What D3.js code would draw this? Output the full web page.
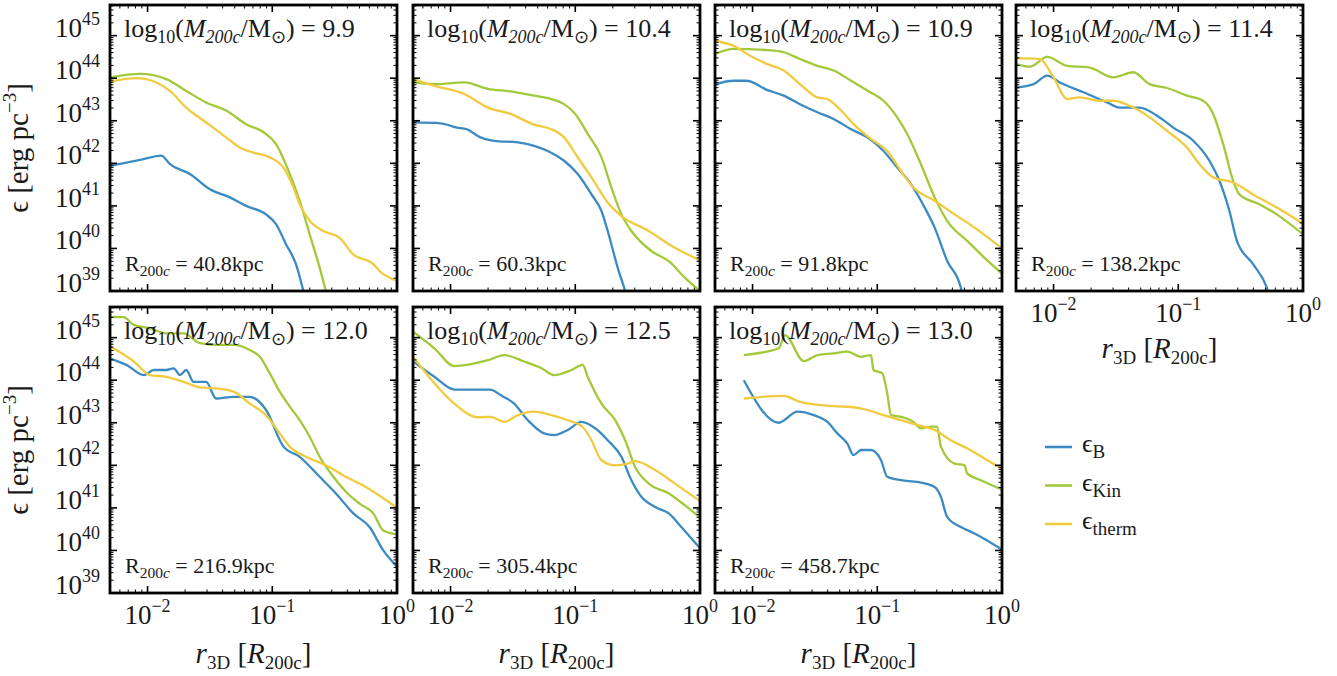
<!DOCTYPE html>
<html>
<head>
<meta charset="utf-8">
<script src="https://cdn.jsdelivr.net/npm/d3@7"></script>
</head>
<body style="margin:0">
<script>
// ---------------- data (log10 r / R200c , log10 eps in erg pc^-3) ----------------

const massLabels = ["9.9", "10.4", "10.9", "11.4", "12.0", "12.5", "13.0"];
const radiusLabels = ["40.8", "60.3", "91.8", "138.2", "216.9", "305.4", "458.7"];
const seriesNames = ["B", "Kin", "therm"];
const seriesColors = ["#3b8bc2", "#a3c93a", "#f0cb40"];

// panel 1 : 9.9
const p1B = [[-2.3,41.94],[-2.03,42.1],[-1.89,42.18],[-1.82,41.98],[-1.66,41.75],[-1.5,41.39],[-1.34,41.2],[-1.21,41.0],[-1.05,40.8],[-0.97,40.57],[-0.89,40.1],[-0.81,39.63],[-0.75,39.0],[-0.73,38.8]];
const p1Kin = [[-2.3,44.02],[-2.06,44.1],[-1.85,43.98],[-1.69,43.7],[-1.53,43.43],[-1.37,43.24],[-1.21,42.92],[-1.07,42.73],[-0.97,42.45],[-0.86,41.75],[-0.78,41.12],[-0.7,40.33],[-0.62,39.55],[-0.57,39.0],[-0.55,38.8]];
const p1Therm = [[-2.3,43.92],[-2.09,44.0],[-1.93,43.9],[-1.82,43.7],[-1.69,43.31],[-1.53,42.96],[-1.37,42.61],[-1.26,42.37],[-1.15,42.25],[-1.02,42.14],[-0.91,41.9],[-0.83,41.43],[-0.78,41.04],[-0.7,40.65],[-0.59,40.41],[-0.46,40.25],[-0.35,39.86],[-0.19,39.63],[-0.14,39.47],[0,39.24]];

// panel 2 : 10.4
const p2B = [[-2.3,42.96],[-2.08,42.94],[-1.95,42.84],[-1.87,42.8],[-1.76,42.61],[-1.65,42.53],[-1.46,42.49],[-1.33,42.41],[-1.22,42.29],[-1.09,42.06],[-0.98,41.75],[-0.87,41.27],[-0.79,40.88],[-0.74,40.41],[-0.66,39.55],[-0.6,39.0],[-0.58,38.8]];
const p2Kin = [[-2.3,43.9],[-2.13,43.86],[-1.89,43.9],[-1.7,43.75],[-1.52,43.69],[-1.33,43.59],[-1.22,43.53],[-1.09,43.39],[-1.0,43.16],[-0.9,42.69],[-0.79,42.14],[-0.71,41.43],[-0.63,40.8],[-0.55,40.41],[-0.39,39.94],[-0.25,39.7],[-0.12,39.31],[0,39.0]];
const p2Therm = [[-2.3,43.98],[-2.13,43.82],[-1.89,43.63],[-1.7,43.31],[-1.52,43.16],[-1.33,42.91],[-1.19,42.8],[-1.09,42.61],[-0.98,42.14],[-0.87,41.67],[-0.74,41.08],[-0.63,40.76],[-0.41,40.41],[-0.25,40.1],[0,39.72]];

// panel 3 : 10.9
const p3B = [[-2.3,43.86],[-2.15,43.94],[-2.05,43.94],[-1.88,43.72],[-1.75,43.59],[-1.62,43.39],[-1.48,43.2],[-1.35,43.04],[-1.21,42.8],[-1.08,42.61],[-0.95,42.29],[-0.84,41.9],[-0.73,41.51],[-0.62,40.96],[-0.54,40.49],[-0.44,39.71],[-0.33,39.08],[-0.31,38.8]];
const p3Kin = [[-2.3,44.57],[-2.15,44.69],[-1.88,44.66],[-1.75,44.61],[-1.62,44.45],[-1.48,44.29],[-1.35,44.18],[-1.21,43.94],[-1.08,43.71],[-0.95,43.47],[-0.84,43.08],[-0.76,42.69],[-0.65,41.98],[-0.54,41.2],[-0.44,40.65],[-0.28,40.18],[-0.14,39.78],[0,39.41]];
const p3Therm = [[-2.3,44.88],[-2.15,44.76],[-2.02,44.53],[-1.88,44.33],[-1.75,44.18],[-1.62,43.86],[-1.48,43.55],[-1.4,43.51],[-1.29,43.24],[-1.19,42.92],[-1.05,42.57],[-0.92,42.29],[-0.81,41.82],[-0.71,41.43],[-0.54,41.12],[-0.38,40.8],[-0.22,40.49],[0,40.0]];

// panel 4 : 11.4
const p4B = [[-2.3,43.78],[-2.16,43.86],[-2.05,44.06],[-1.95,43.9],[-1.76,43.67],[-1.57,43.43],[-1.47,43.31],[-1.31,43.31],[-1.17,43.12],[-1.04,42.84],[-0.88,42.53],[-0.75,42.06],[-0.67,41.59],[-0.59,40.88],[-0.53,40.18],[-0.4,39.63],[-0.29,39.08],[-0.26,38.8]];
const p4Kin = [[-2.3,44.33],[-2.19,44.27],[-2.05,44.5],[-1.89,44.29],[-1.71,44.25],[-1.52,44.02],[-1.36,44.14],[-1.23,43.86],[-1.09,43.77],[-0.93,43.59],[-0.8,43.47],[-0.72,43.16],[-0.64,42.45],[-0.56,41.59],[-0.51,41.27],[-0.35,41.04],[-0.21,40.8],[0,40.33]];
const p4Therm = [[-2.3,44.47],[-2.11,44.45],[-2.0,44.02],[-1.89,43.51],[-1.79,43.55],[-1.63,43.47],[-1.52,43.47],[-1.36,43.31],[-1.23,43.08],[-1.09,42.76],[-0.93,42.37],[-0.83,41.98],[-0.72,41.67],[-0.56,41.55],[-0.4,41.27],[-0.21,40.96],[0,40.58]];

// panel 5 : 12.0
const p5B = [[-2.3,44.51],[-2.17,44.36],[-2.03,44.12],[-1.95,44.24],[-1.85,44.24],[-1.79,44.28],[-1.74,44.12],[-1.69,44.24],[-1.63,43.96],[-1.53,43.96],[-1.45,43.57],[-1.31,43.61],[-1.18,43.61],[-1.05,43.3],[-0.91,42.44],[-0.78,42.2],[-0.62,41.73],[-0.49,41.34],[-0.35,40.87],[-0.22,40.55],[-0.11,40.0],[0,39.62]];
const p5Kin = [[-2.3,45.49],[-2.19,45.48],[-2.11,45.3],[-1.98,45.22],[-1.85,45.1],[-1.71,45.1],[-1.58,44.87],[-1.45,44.83],[-1.31,44.83],[-1.18,44.71],[-1.1,44.55],[-1.02,44.16],[-0.94,43.73],[-0.86,43.38],[-0.78,43.06],[-0.7,42.67],[-0.62,42.2],[-0.51,41.73],[-0.41,41.38],[-0.3,41.1],[-0.19,40.87],[-0.11,40.47],[0,40.38]];
const p5Therm = [[-2.3,44.79],[-2.11,44.44],[-1.98,44.12],[-1.85,44.08],[-1.71,43.96],[-1.58,43.83],[-1.45,43.81],[-1.31,43.73],[-1.18,43.45],[-1.05,43.18],[-0.94,42.75],[-0.86,42.44],[-0.73,42.2],[-0.57,42.0],[-0.41,41.73],[-0.25,41.49],[0,41.0]];

// panel 6 : 12.5
const p6B = [[-2.3,44.44],[-2.13,44.08],[-1.97,43.78],[-1.68,43.78],[-1.6,43.65],[-1.49,43.45],[-1.38,43.06],[-1.25,42.75],[-1.17,42.71],[-1.06,42.83],[-0.95,43.02],[-0.84,42.87],[-0.74,42.59],[-0.63,42.2],[-0.55,41.65],[-0.47,41.26],[-0.36,41.02],[-0.25,40.87],[-0.15,40.55],[0,40.05]];
const p6Kin = [[-2.3,45.14],[-2.13,44.75],[-1.97,44.33],[-1.7,44.47],[-1.57,44.59],[-1.41,44.44],[-1.27,44.28],[-1.17,44.12],[-1.03,44.24],[-0.94,44.36],[-0.9,44.08],[-0.79,43.45],[-0.68,43.06],[-0.6,42.59],[-0.52,41.96],[-0.41,41.57],[-0.25,41.34],[-0.12,41.06],[0,40.77]];
const p6Therm = [[-2.3,44.55],[-2.13,43.93],[-1.97,43.45],[-1.78,43.13],[-1.68,43.14],[-1.57,43.02],[-1.46,43.18],[-1.33,43.26],[-1.19,43.18],[-1.06,43.06],[-0.94,42.9],[-0.87,42.59],[-0.79,42.12],[-0.68,42.0],[-0.58,42.04],[-0.52,42.1],[-0.36,41.89],[-0.2,41.57],[0,41.16]];

// panel 7 : 13.0
const p7B = [[-2.07,44.0],[-1.79,43.0],[-1.64,43.26],[-1.51,43.18],[-1.4,43.02],[-1.32,42.75],[-1.24,42.51],[-1.19,42.24],[-1.13,42.36],[-1.05,42.36],[-0.97,42.12],[-0.92,41.73],[-0.81,41.65],[-0.68,41.61],[-0.54,41.49],[-0.49,41.26],[-0.44,40.79],[-0.33,40.55],[-0.22,40.4],[0,40.02]];
const p7Kin = [[-2.07,44.59],[-1.79,44.75],[-1.74,45.06],[-1.59,44.45],[-1.48,44.59],[-1.35,44.63],[-1.24,44.67],[-1.13,44.55],[-1.05,44.59],[-1.03,44.24],[-0.96,44.16],[-0.92,43.69],[-0.89,43.18],[-0.81,43.14],[-0.71,43.02],[-0.65,42.87],[-0.57,42.91],[-0.52,42.91],[-0.49,42.44],[-0.38,42.04],[-0.3,42.0],[-0.28,41.81],[-0.17,41.65],[0,41.43]];
const p7Therm = [[-2.07,43.57],[-1.75,43.63],[-1.62,43.49],[-1.35,43.39],[-1.21,43.37],[-1.08,43.3],[-0.95,43.18],[-0.81,43.06],[-0.68,42.95],[-0.54,42.83],[-0.41,42.59],[-0.28,42.4],[-0.14,42.16],[0,41.91]];

const panelSeries = [
  [p1B, p1Kin, p1Therm],
  [p2B, p2Kin, p2Therm],
  [p3B, p3Kin, p3Therm],
  [p4B, p4Kin, p4Therm],
  [p5B, p5Kin, p5Therm],
  [p6B, p6Kin, p6Therm],
  [p7B, p7Kin, p7Therm]
];

const xTickValues = [1e-2, 1e-1, 1];
const xTickExps = ["\u22122", "\u22121", "0"];
const yTickValues = [1e39, 1e40, 1e41, 1e42, 1e43, 1e44, 1e45];
const yTickExps = ["39", "40", "41", "42", "43", "44", "45"];

// ---------------- layout ----------------

const W = 1337, H = 676;
const pw = 287, ph = 286;
const colX = [110, 413, 715, 1016];
const rowY = [5, 307];

const svg = d3.select("body").append("svg")
  .attr("width", W).attr("height", H);

const x = d3.scaleLog().domain([0.005, 1]).range([0, pw]);
const y = d3.scaleLog().domain([1e39, Math.pow(10, 45.72)]).range([ph, 0]);

// minor tick positions
const xMinor = [], yMinor = [];
for (let e = -3; e < 0; e++) for (let k = 2; k < 10; k++) {
  const v = k * Math.pow(10, e);
  if (v > 0.005 && v < 1) xMinor.push(v);
}
for (let e = 39; e < 46; e++) for (let k = 2; k < 10; k++) {
  const v = k * Math.pow(10, e);
  if (v < y.domain()[1]) yMinor.push(v);
}

function txt(parent) {
  return parent.append("text").attr("font-family", "Liberation Serif").attr("fill", "#1a1a1a");
}

function supText(sel, base, exp, size, expSize, raise) {
  sel.append("tspan").attr("font-size", size).text(base);
  sel.append("tspan").attr("font-size", expSize).attr("dy", -raise).text(exp);
}

const line = d3.line()
  .x(d => x(Math.pow(10, d[0])))
  .y(d => y(Math.pow(10, d[1])))
  .curve(d3.curveMonotoneX);

panelSeries.forEach((series, i) => {
  const row = i < 4 ? 0 : 1;
  const col = i < 4 ? i : i - 4;
  const g = svg.append("g").attr("transform", `translate(${colX[col]},${rowY[row]})`);

  g.append("clipPath").attr("id", "clip" + i)
    .append("rect").attr("width", pw).attr("height", ph);

  // curves
  const lines = g.append("g").attr("clip-path", `url(#clip${i})`);
  series.forEach((s, j) => {
    lines.append("path")
      .datum(s)
      .attr("d", line)
      .attr("fill", "none")
      .attr("stroke", seriesColors[j])
      .attr("stroke-width", 2.3)
      .attr("stroke-linejoin", "round");
  });

  // ticks, inward on all four sides
  const ticks = g.append("g").attr("stroke", "#000");
  xTickValues.concat(xMinor).forEach(v => {
    const len = xTickValues.includes(v) ? 7 : 3.5;
    const sw = xTickValues.includes(v) ? 1.6 : 1;
    ticks.append("line").attr("x1", x(v)).attr("x2", x(v)).attr("y1", ph).attr("y2", ph - len).attr("stroke-width", sw);
    ticks.append("line").attr("x1", x(v)).attr("x2", x(v)).attr("y1", 0).attr("y2", len).attr("stroke-width", sw);
  });
  yTickValues.concat(yMinor).forEach(v => {
    const len = yTickValues.includes(v) ? 7 : 3.5;
    const sw = yTickValues.includes(v) ? 1.6 : 1;
    ticks.append("line").attr("y1", y(v)).attr("y2", y(v)).attr("x1", 0).attr("x2", len).attr("stroke-width", sw);
    ticks.append("line").attr("y1", y(v)).attr("y2", y(v)).attr("x1", pw).attr("x2", pw - len).attr("stroke-width", sw);
  });

  // frame
  g.append("rect").attr("width", pw).attr("height", ph)
    .attr("fill", "none").attr("stroke", "#000").attr("stroke-width", 2.8);

  // mass label
  const t = txt(g).attr("x", 14).attr("y", 32).attr("font-size", 26);
  t.append("tspan").text("log");
  t.append("tspan").attr("font-size", 18).attr("dy", 6).text("10");
  t.append("tspan").attr("dy", -6).text("(");
  t.append("tspan").attr("font-style", "italic").text("M");
  t.append("tspan").attr("font-size", 18).attr("font-style", "italic").attr("dy", 6).text("200c");
  t.append("tspan").attr("dy", -6).text("/M");
  t.append("tspan").attr("font-size", 18).attr("dy", 6).text("\u2299");
  t.append("tspan").attr("dy", -6).text(") = " + massLabels[i]);

  // radius label
  const r = txt(g).attr("x", 15).attr("y", 266).attr("font-size", 22);
  r.append("tspan").text("R");
  r.append("tspan").attr("font-size", 15.5).attr("dy", 5).text("200");
  r.append("tspan").attr("font-size", 15.5).attr("font-style", "italic").text("c");
  r.append("tspan").attr("dy", -5).text(" = " + radiusLabels[i] + "kpc");

  // y tick labels on the first column
  if (col === 0) {
    yTickValues.forEach((v, k) => {
      const lab = txt(g).attr("x", -10).attr("y", y(v) + 1).attr("text-anchor", "end");
      supText(lab, "10", yTickExps[k], 27, 18, 12);
    });
    const yl = txt(g)
      .attr("transform", `translate(-82,${ph / 2}) rotate(-90)`)
      .attr("text-anchor", "middle").attr("font-size", 29);
    yl.append("tspan").text("\u03f5 [erg pc");
    yl.append("tspan").attr("font-size", 19).attr("dy", -12).text("\u22123");
    yl.append("tspan").attr("dy", 12).text("]");
  }

  // x tick labels on bottom row and on the top-right panel
  if (row === 1 || col === 3) {
    xTickValues.forEach((v, k) => {
      const lab = txt(g).attr("x", x(v)).attr("y", ph + 31).attr("text-anchor", "middle");
      supText(lab, "10", xTickExps[k], 27, 18, 12);
    });
    const xl = txt(g).attr("x", pw / 2).attr("y", ph + (row === 1 ? 70 : 67))
      .attr("text-anchor", "middle").attr("font-size", 29);
    xl.append("tspan").attr("font-style", "italic").text("r");
    xl.append("tspan").attr("font-size", 19).attr("dy", 6).text("3D");
    xl.append("tspan").attr("dy", -6).text(" [");
    xl.append("tspan").attr("font-style", "italic").text("R");
    xl.append("tspan").attr("font-size", 19).attr("dy", 6).text("200c");
    xl.append("tspan").attr("dy", -6).text("]");
  }
});

// legend
const legend = svg.append("g").attr("transform", "translate(1045,447)");
seriesNames.forEach((name, j) => {
  const gy = j * 38.5;
  legend.append("line").attr("x1", 0).attr("x2", 27).attr("y1", gy).attr("y2", gy)
    .attr("stroke", seriesColors[j]).attr("stroke-width", 2.6);
  const lt = txt(legend).attr("x", 37).attr("y", gy + 5).attr("font-size", 26);
  lt.append("tspan").text("\u03f5");
  lt.append("tspan").attr("font-size", 19).attr("dy", 6).text(name);
});

svg.selectAll("text, tspan").attr("font-family", "Liberation Serif");
</script>
</body>
</html>
